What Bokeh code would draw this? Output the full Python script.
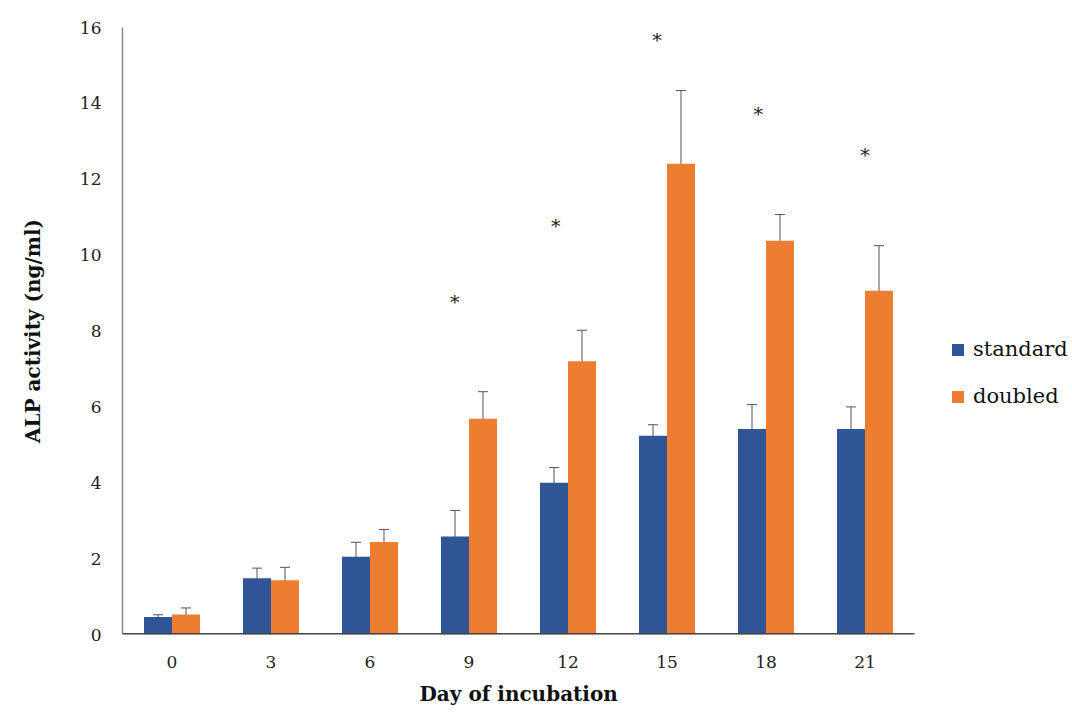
from bokeh.plotting import figure
from bokeh.models import ColumnDataSource, Whisker, Legend, LegendItem, FixedTicker, Range1d, Title
from bokeh.core.properties import value
from bokeh.embed import file_html
from bokeh.resources import INLINE

days = ["0", "3", "6", "9", "12", "15", "18", "21"]
standard = [0.46, 1.48, 2.05, 2.58, 4.00, 5.24, 5.42, 5.42]
standard_err = [0.06, 0.27, 0.38, 0.69, 0.40, 0.29, 0.64, 0.58]
doubled = [0.53, 1.43, 2.44, 5.69, 7.20, 12.41, 10.38, 9.06]
doubled_err = [0.17, 0.34, 0.33, 0.71, 0.82, 1.93, 0.69, 1.19]
sig_index = [3, 4, 5, 6, 7]
sig_dx = [-0.145, -0.125, -0.10, -0.078, 0.0]
sig_y = [8.83, 10.83, 15.73, 13.76, 12.68]
y_ticks = [0, 2, 4, 6, 8, 10, 12, 14, 16]

BLUE = "#2F5597"
ORANGE = "#ED7D31"
FONT = "DejaVu Serif"
OFF = 0.1414
BW = 0.283

# layout
W, H = 1072, 716
LEFT, RIGHT, TOP, BOTTOM = 122, 0, 27, 82
PX_PER_CAT = 99
frame_w = W - LEFT - RIGHT
x_start = -0.5
x_end = x_start + frame_w / PX_PER_CAT

idx = list(range(len(days)))
src_s = ColumnDataSource(dict(
    x=[i - OFF for i in idx], top=standard,
    upper=[v + e for v, e in zip(standard, standard_err)],
    lower=[v - e for v, e in zip(standard, standard_err)]))
src_d = ColumnDataSource(dict(
    x=[i + OFF for i in idx], top=doubled,
    upper=[v + e for v, e in zip(doubled, doubled_err)],
    lower=[v - e for v, e in zip(doubled, doubled_err)]))

p = figure(width=W, height=H, output_backend="svg", toolbar_location=None,
           x_range=Range1d(x_start, x_end), y_range=Range1d(0, 16),
           min_border_left=LEFT, min_border_right=RIGHT, min_border_top=TOP, min_border_bottom=BOTTOM)
p.outline_line_color = None
p.grid.visible = False

r1 = p.vbar(x="x", top="top", width=BW, source=src_s, fill_color=BLUE, line_color=None)
r2 = p.vbar(x="x", top="top", width=BW, source=src_d, fill_color=ORANGE, line_color=None)

# x axis baseline spanning only the categories
p.segment(x0=[-0.5], x1=[len(days) - 0.5], y0=[0], y1=[0], line_color="#444444", line_width=3)

for src in (src_s, src_d):
    w = Whisker(base="x", upper="upper", lower="lower", source=src,
                line_color="#555555", line_width=1)
    w.upper_head.size = 10
    w.lower_head.size = 10
    w.upper_head.line_color = "#555555"
    w.lower_head.line_color = "#555555"
    p.add_layout(w)

p.text(x=[sig_index[i] + sig_dx[i] for i in range(len(sig_index))], y=sig_y,
       text=["*"] * len(sig_index), text_align="center", text_baseline="middle",
       text_font=value(FONT), text_font_size="19px", text_color="#1a1a1a", y_offset=2)

p.xaxis.ticker = FixedTicker(ticks=idx)
p.xaxis.major_label_overrides = {i: d for i, d in enumerate(days)}
p.yaxis.ticker = FixedTicker(ticks=y_ticks)

for ax in (p.xaxis, p.yaxis):
    ax.major_tick_line_color = None
    ax.minor_tick_line_color = None
    ax.major_label_text_font = FONT
    ax.major_label_text_font_size = "17px"
    ax.major_label_text_color = "#222222"
    ax.axis_label_text_font = FONT
    ax.axis_label_text_font_style = "bold"
    ax.axis_label_text_font_size = "20px"
    ax.axis_label_text_color = "#111111"

p.xaxis.axis_line_color = None
p.yaxis.axis_line_color = "#888888"
p.yaxis.axis_line_width = 1.5
p.xaxis.major_label_standoff = 15
p.yaxis.major_label_standoff = 15
p.yaxis.axis_label = "ALP activity (ng/ml)"
p.yaxis.axis_label_standoff = 32

xt = Title(text="Day of incubation", align="left", offset=297,
           text_font=FONT, text_font_style="bold", text_font_size="20px",
           text_color="#111111", standoff=19)
p.add_layout(xt, "below")

legend = Legend(items=[LegendItem(label="standard", renderers=[r1]),
                       LegendItem(label="doubled", renderers=[r2])],
                location=(828, 226), padding=0, margin=0, spacing=23,
                glyph_width=15, glyph_height=15, label_height=20, label_standoff=8,
                label_text_font=FONT, label_text_font_size="21px", label_text_color="#111111",
                border_line_color=None, background_fill_alpha=0)
p.add_layout(legend, "center")

open("out.html", "w").write(file_html(p, INLINE))
